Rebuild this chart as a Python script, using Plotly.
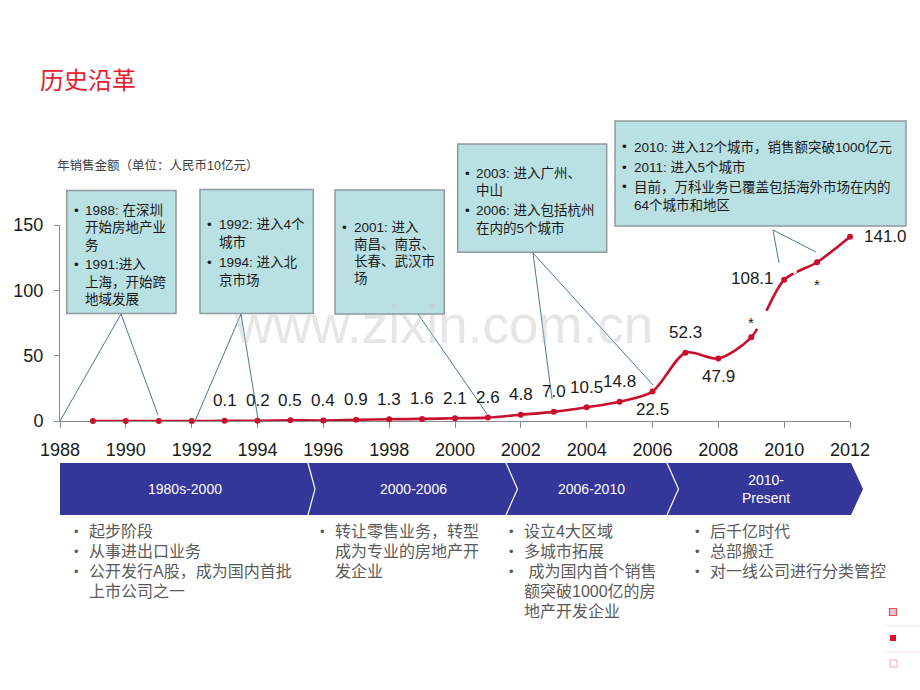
import plotly.graph_objects as go

# ---------------- data ----------------
years = list(range(1989, 2013))
sales = [0, 0, 0, 0, 0.1, 0.2, 0.5, 0.4, 0.9, 1.3, 1.6, 2.1, 2.6, 4.8, 7.0, 10.5,
         14.8, 22.5, 52.3, 47.9, 64.0, 108.1, 121.5, 141.0]
label_text = ["", "", "", "", "0.1", "0.2", "0.5", "0.4", "0.9", "1.3", "1.6", "2.1",
              "2.6", "4.8", "7.0", "10.5", "14.8", "22.5", "52.3", "47.9", "*",
              "108.1", "*", "141.0"]
x_ticks = list(range(1988, 2013, 2))
y_ticks = [0, 50, 100, 150]

title_text = "历史沿革"
unit_text = "年销售金额（单位：人民币10亿元）"

callouts = [
    [["1988: 在深圳", "开始房地产业", "务"], ["1991:进入", "上海，开始跨", "地域发展"]],
    [["1992: 进入4个", "城市"], ["1994: 进入北", "京市场"]],
    [["2001: 进入", "南昌、南京、", "长春、武汉市", "场"]],
    [["2003: 进入广州、", "中山"], ["2006: 进入包括杭州", "在内的5个城市"]],
    [["2010: 进入12个城市，销售额突破1000亿元"], ["2011: 进入5个城市"],
     ["目前，万科业务已覆盖包括海外市场在内的", "64个城市和地区"]],
]

phases = ["1980s-2000", "2000-2006", "2006-2010", "2010-<br>Present"]
phase_notes = [
    [["起步阶段"], ["从事进出口业务"], ["公开发行A股，成为国内首批", "上市公司之一"]],
    [["转让零售业务，转型", "成为专业的房地产开", "发企业"]],
    [["设立4大区域"], ["多城市拓展"], [" 成为国内首个销售", "额突破1000亿的房", "地产开发企业"]],
    [["后千亿时代"], ["总部搬迁"], ["对一线公司进行分类管控"]],
]

# ---------------- style / layout ----------------
FONT = "Liberation Sans, Arial, Noto Sans CJK SC, sans-serif"
RED = "#C8102E"
L, R, T, B = 60, 850, 225, 421  # plot area in pixels


def X(px):
    return (px - L) / (R - L)


def Y(py):
    return (B - py) / (B - T)


fig = go.Figure()
fig.add_trace(go.Scatter(
    x=years, y=sales, mode="lines+markers",
    line=dict(color=RED, width=2.6, shape="spline", smoothing=0.8),
    marker=dict(size=6, color=RED),
    cliponaxis=False, hoverinfo="skip", showlegend=False))

shapes = []
annotations = []

# data labels
placement = {2006: ("center", 0, -18), 2008: ("center", 0, -18),
             2009: ("center", 0, 15), 2010: ("right", -8, 1),
             2011: ("center", 0, -22), 2012: ("left", 12, 0)}
for yr, v, t in zip(years, sales, label_text):
    if not t:
        continue
    xa, xs, ys = placement.get(yr, ("center", 0, 20))
    annotations.append(dict(x=yr, y=v, xref="x", yref="y", text=t, showarrow=False,
                            xanchor=xa, yanchor="middle", xshift=xs, yshift=ys,
                            font=dict(family=FONT, size=17 if t != "*" else 15,
                                      color="#1a1a1a")))

# line breaks (white gaps)
for (x0, y0, x1, y1) in [(757.5, 329, 766, 310.5), (792.5, 272, 795.5, 269.8)]:
    shapes.append(dict(type="line", xref="paper", yref="paper", x0=X(x0), y0=Y(y0),
                       x1=X(x1), y1=Y(y1), line=dict(color="white", width=6),
                       layer="above"))

# watermark
annotations.append(dict(x=X(443), y=Y(324), xref="paper", yref="paper",
                        text="www.zixin.com.cn", showarrow=False,
                        font=dict(family=FONT, size=53, color="rgba(200,200,200,0.45)")))

# title & unit
annotations.append(dict(x=X(38), y=Y(78), xref="paper", yref="paper", text=title_text,
                        showarrow=False, xanchor="left", yanchor="middle",
                        font=dict(family="Noto Sans CJK SC", size=24, color="#E4202F")))
annotations.append(dict(x=X(55), y=Y(165), xref="paper", yref="paper", text=unit_text,
                        showarrow=False, xanchor="left", yanchor="middle",
                        font=dict(family=FONT, size=12.5, color="#404040")))

# callout boxes
boxes = [(66.7, 190.5, 176, 313.5), (200, 189.5, 313.3, 313.5), (335, 190, 444.3, 314),
         (457.7, 144, 606.7, 252.3), (615, 121, 906, 226)]
text_y0 = [210, 224, 227, 173, 147]
line_h = [17.5, 18, 17, 17.5, 17.5]
para_gap = [2, 2, 0, 2, 2.5]
pointers = [[((121, 314), (60, 421)), ((121, 314), (158, 415))],
            [((241, 314), (195, 421)), ((241, 314), (258, 419))],
            [((418, 314), (487, 414))],
            [((533, 253), (552, 399)), ((533, 253), (653, 385))],
            [((773, 230), (779, 263)), ((773, 230), (816, 252))]]
for bi, (bx0, by0, bx1, by1) in enumerate(boxes):
    shapes.append(dict(type="rect", xref="paper", yref="paper", x0=X(bx0), x1=X(bx1),
                       y0=Y(by1), y1=Y(by0), fillcolor="#B9E0E3",
                       line=dict(color="#8E9A9C", width=1.5), layer="above"))
    for (p0, p1) in pointers[bi]:
        shapes.append(dict(type="line", xref="paper", yref="paper", x0=X(p0[0]),
                           y0=Y(p0[1]), x1=X(p1[0]), y1=Y(p1[1]),
                           line=dict(color="#4A7A8C", width=1), layer="above"))
    yy = text_y0[bi]
    for pi, para in enumerate(callouts[bi]):
        for li, line in enumerate(para):
            if li == 0:
                annotations.append(dict(x=X(bx0 + 5), y=Y(yy), xref="paper", yref="paper",
                                        text="•", showarrow=False, xanchor="left",
                                        yanchor="middle",
                                        font=dict(family=FONT, size=13.5, color="#1a1a1a")))
            annotations.append(dict(x=X(bx0 + 16.5), y=Y(yy), xref="paper", yref="paper",
                                    text=line, showarrow=False, xanchor="left",
                                    yanchor="middle",
                                    font=dict(family=FONT, size=13.5, color="#1a1a1a")))
            yy += line_h[bi]
        yy += para_gap[bi]

# chevron band
band = [(60, 463), (851, 463), (863, 489), (851, 515), (60, 515)]
path = "M " + " L ".join(f"{X(a):.5f},{Y(b):.5f}" for a, b in band) + " Z"
shapes.append(dict(type="path", xref="paper", yref="paper", path=path,
                   fillcolor="#35369A", line=dict(width=0)))
for dx in [308, 506, 667]:
    pts = [(dx, 463), (dx + 7 if dx == 308 else dx + 11.5, 489), (dx, 515)]
    p = "M " + " L ".join(f"{X(a):.5f},{Y(b):.5f}" for a, b in pts)
    shapes.append(dict(type="path", xref="paper", yref="paper", path=p,
                       line=dict(color="white", width=1.2)))
phase_x = [185, 413, 591, 766]
for px, t in zip(phase_x, phases):
    annotations.append(dict(x=X(px), y=Y(489), xref="paper", yref="paper", text=t,
                            showarrow=False, xanchor="center", yanchor="middle",
                            font=dict(family=FONT, size=14, color="white")))

# notes under the band
note_bullet_x = [71.5, 318, 506.5, 693]
note_text_x = [86.5, 333, 521.5, 708]
for ci, col in enumerate(phase_notes):
    yy = 531.5
    for para in col:
        for li, line in enumerate(para):
            if li == 0:
                annotations.append(dict(x=X(note_bullet_x[ci]), y=Y(yy), xref="paper",
                                        yref="paper", text="•", showarrow=False,
                                        xanchor="left", yanchor="middle",
                                        font=dict(family=FONT, size=13, color="#5a5a5a")))
            annotations.append(dict(x=X(note_text_x[ci]), y=Y(yy), xref="paper",
                                    yref="paper", text=line, showarrow=False,
                                    xanchor="left", yanchor="middle",
                                    font=dict(family=FONT, size=16, color="#5a5a5a")))
            yy += 20

# decorative icons at the bottom right
shapes += [
    dict(type="rect", xref="paper", yref="paper", x0=X(889.5), x1=X(896.5), y0=Y(615.5),
         y1=Y(608.5), line=dict(color="#E8505E", width=1.2), fillcolor="#F7C3C8"),
    dict(type="line", xref="paper", yref="paper", x0=X(886), x1=X(920), y0=Y(626),
         y1=Y(626), line=dict(color="#FBE0E3", width=1)),
    dict(type="rect", xref="paper", yref="paper", x0=X(890), x1=X(896), y0=Y(641),
         y1=Y(635), line=dict(width=0), fillcolor="#E0102A"),
    dict(type="line", xref="paper", yref="paper", x0=X(886), x1=X(920), y0=Y(652),
         y1=Y(652), line=dict(color="#FBE0E3", width=1)),
    dict(type="rect", xref="paper", yref="paper", x0=X(890), x1=X(897), y0=Y(667),
         y1=Y(660), line=dict(color="#F3A9B0", width=1), fillcolor="white"),
]

axis_color = "#8c8c8c"
fig.update_layout(
    width=920, height=690, autosize=False,
    margin=dict(l=L, r=920 - R, t=T, b=690 - B, pad=0),
    paper_bgcolor="white", plot_bgcolor="white",
    showlegend=False,
    xaxis=dict(range=[1988, 2012], tickvals=x_ticks, ticks="outside", ticklen=6,
               tickcolor=axis_color, showline=True, linecolor=axis_color, linewidth=1,
               showgrid=False, zeroline=False, layer="below traces",
               ticklabelstandoff=6,
               tickfont=dict(family=FONT, size=18, color="#1a1a1a")),
    yaxis=dict(range=[0, 150], tickvals=y_ticks, ticks="outside", ticklen=5,
               tickcolor=axis_color, showline=True, linecolor=axis_color, linewidth=1,
               showgrid=False, zeroline=False, layer="below traces",
               ticklabelstandoff=7,
               tickfont=dict(family=FONT, size=18, color="#1a1a1a")),
    shapes=shapes, annotations=annotations,
)

fig.write_html("out.html")
